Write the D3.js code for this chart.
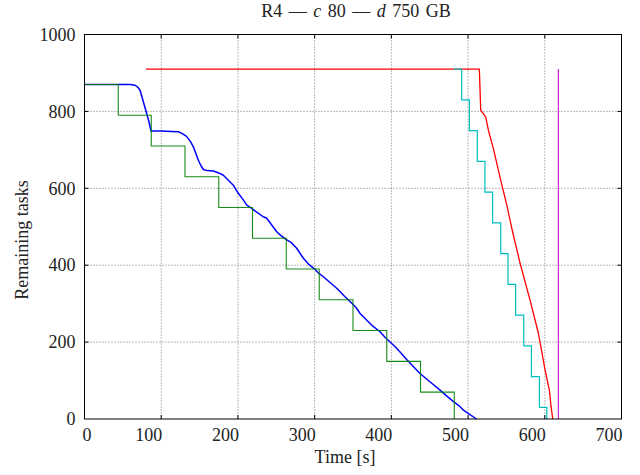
<!DOCTYPE html>
<html>
<head>
<meta charset="utf-8">
<script src="https://cdn.jsdelivr.net/npm/d3@7"></script>
<style>
  html, body { margin: 0; padding: 0; background: #fff; }
  svg { display: block; }
  text { font-family: "Liberation Serif", "Times New Roman", serif; fill: #222; }
</style>
</head>
<body>
<svg id="chart" width="640" height="475"></svg>
<script>
// ---- data ----
const xTicks = [0, 100, 200, 300, 400, 500, 600, 700];
const yTicks = [0, 200, 400, 600, 800, 1000];

const greenTimes  = [0, 44, 87, 131, 175, 219, 263, 306, 350, 394, 438, 482];
const greenValues = [870, 790, 710, 630, 550, 470, 390, 310, 230, 150, 70, 0];

const cyanTimes  = [481, 491.7, 501.7, 512, 522, 532, 542.6, 552, 562, 572.6, 582.6, 593, 602.6];
const cyanValues = [910, 830, 750, 670, 590, 510, 430, 350, 270, 190, 110, 30, 0];

const redTimes  = [80, 514.7, 516.5, 519.5, 523, 526.5, 533, 542, 550.5, 558, 567.8, 580.8, 591.7, 600.4, 606, 608.2, 610.4];
const redValues = [910, 910, 803, 795, 786, 751, 703, 626, 556, 487, 405, 309, 223, 127, 75, 32, 0];

const magentaTimes  = [617.7, 617.7];
const magentaValues = [910, 0];

const blueTimes = [0, 60, 66, 70, 72.4, 76.7, 81, 84, 86.7, 100, 113.7, 122.3, 127, 133, 138, 141.9, 148.4, 152, 155, 160, 168, 175, 181, 187.5, 194, 200.5, 207, 211.5, 218, 223, 233, 237.5, 245, 250.6, 256, 262.7, 270, 276.6, 285.3, 292, 300.5, 306, 311.4, 320, 328.8, 338, 348.4, 354, 359, 368, 375, 385.3, 392, 398, 405, 411, 420, 428, 437, 447, 455, 463.5, 472, 481, 488, 494, 502, 511];
const blueValues = [870, 870, 868, 862, 855, 825, 795, 773, 749, 749, 748, 747, 743, 735, 722, 708, 673, 658, 649, 646, 645, 640, 634, 621, 608, 587, 570, 556, 548, 540, 526, 522, 502, 487, 477, 467, 458, 444, 418, 403, 389, 378, 370, 355, 340, 321, 301, 290, 275, 257, 243, 227, 212, 201, 188, 175, 155, 138, 119, 102, 89, 75, 60, 45, 35, 23, 12, 0];

// ---- chart ----
const svg = d3.select("#chart");
const L = 84.5, R = 621.5, T = 34.5, B = 419;
const x = d3.scaleLinear().domain([0, 700]).range([L, R]);
const y = d3.scaleLinear().domain([0, 1000]).range([B, T]);

const zip = (a, b) => a.map((t, i) => [t, b[i]]);

// grid
const grid = svg.append("g");
grid.selectAll("line.v").data(xTicks.filter(d => d > 0 && d < 700)).join("line")
  .attr("x1", d => x(d)).attr("x2", d => x(d)).attr("y1", T).attr("y2", B)
  .attr("stroke", "#666").attr("stroke-width", 0.9).attr("stroke-dasharray", "1,2");
grid.selectAll("line.h").data(yTicks.filter(d => d > 0 && d < 1000)).join("line")
  .attr("x1", L).attr("x2", R).attr("y1", d => y(d)).attr("y2", d => y(d))
  .attr("stroke", "#666").attr("stroke-width", 0.9).attr("stroke-dasharray", "1,2");

// inner tick marks
const tk = svg.append("g").attr("stroke", "#000").attr("stroke-width", 1);
xTicks.filter(d => d > 0 && d < 700).forEach(d => {
  tk.append("line").attr("x1", x(d)).attr("x2", x(d)).attr("y1", B).attr("y2", B - 4);
  tk.append("line").attr("x1", x(d)).attr("x2", x(d)).attr("y1", T).attr("y2", T + 4);
});
yTicks.filter(d => d > 0 && d < 1000).forEach(d => {
  tk.append("line").attr("x1", L).attr("x2", L + 4).attr("y1", y(d)).attr("y2", y(d));
  tk.append("line").attr("x1", R).attr("x2", R - 4).attr("y1", y(d)).attr("y2", y(d));
});

// series
const stepLine = d3.line().x(d => x(d[0])).y(d => y(d[1])).curve(d3.curveStepAfter);
const line = d3.line().x(d => x(d[0])).y(d => y(d[1]));

svg.append("path").datum(zip(blueTimes, blueValues)).attr("d", line)
  .attr("fill", "none").attr("stroke", "#0000ff").attr("stroke-width", 1.5).attr("stroke-linejoin", "round");
svg.append("path").datum(zip(greenTimes, greenValues)).attr("d", stepLine)
  .attr("fill", "none").attr("stroke", "#008000").attr("stroke-width", 1.1).attr("stroke-opacity", 0.9);
svg.append("path").datum(zip(redTimes, redValues)).attr("d", line)
  .attr("fill", "none").attr("stroke", "#ff0000").attr("stroke-width", 1.3).attr("stroke-linejoin", "round");
svg.append("path").datum(zip(cyanTimes, cyanValues)).attr("d", stepLine)
  .attr("fill", "none").attr("stroke", "#00bfbf").attr("stroke-width", 1.2);
svg.append("path").datum(zip(magentaTimes, magentaValues)).attr("d", line)
  .attr("fill", "none").attr("stroke", "#cc22cc").attr("stroke-width", 1.2);

// frame
svg.append("rect").attr("x", L).attr("y", T).attr("width", R - L).attr("height", B - T)
  .attr("fill", "none").attr("stroke", "#000").attr("stroke-width", 1);

// axes (labels)
const xAxis = svg.append("g").attr("transform", `translate(0,${B})`)
  .call(d3.axisBottom(x).tickValues(xTicks).tickSize(0).tickFormat(d3.format("d")));
xAxis.select(".domain").remove();
xAxis.selectAll("text").attr("font-size", 18).attr("font-family", "Liberation Serif")
  .attr("fill", "#222").attr("dy", null).attr("y", 22)
  .attr("dx", d => d === 0 ? 2 : -13);

const yAxis = svg.append("g").attr("transform", `translate(${L},0)`)
  .call(d3.axisLeft(y).tickValues(yTicks).tickSize(0).tickPadding(9).tickFormat(d3.format("d")));
yAxis.select(".domain").remove();
yAxis.selectAll("text").attr("font-size", 18).attr("font-family", "Liberation Serif").attr("fill", "#222");

// axis titles
svg.append("text").attr("x", 345).attr("y", 463).attr("text-anchor", "middle")
  .attr("font-size", 18).text("Time [s]");
svg.append("text").attr("transform", "translate(28,240) rotate(-90)").attr("text-anchor", "middle")
  .attr("font-size", 18).text("Remaining tasks");

// title
const title = svg.append("text").attr("x", 356).attr("y", 17).attr("text-anchor", "middle")
  .attr("font-size", 18).attr("word-spacing", 2);
title.append("tspan").text("R4 — ");
title.append("tspan").attr("font-style", "italic").text("c");
title.append("tspan").text(" 80 — ");
title.append("tspan").attr("font-style", "italic").text("d");
title.append("tspan").text(" 750 GB");
</script>
</body>
</html>
